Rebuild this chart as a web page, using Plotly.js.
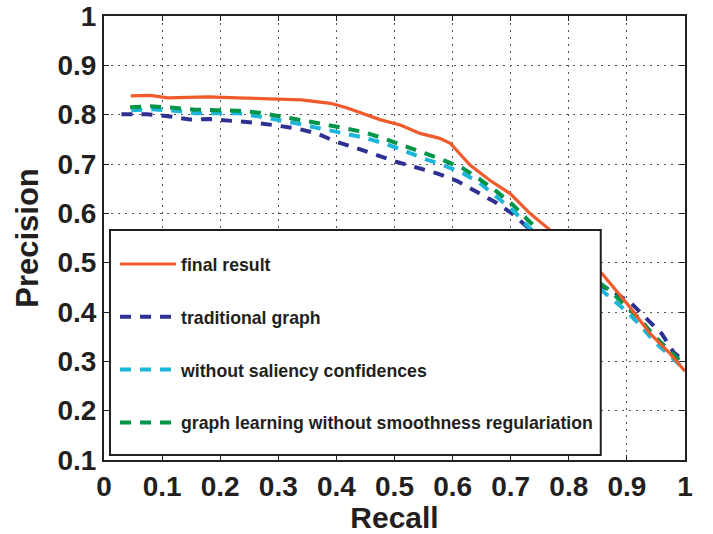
<!DOCTYPE html>
<html>
<head>
<meta charset="utf-8">
<script src="https://cdn.plot.ly/plotly-3.0.1.min.js"></script>
<style>html,body{margin:0;padding:0;background:#fff;}#chart{width:713px;height:534px;}</style>
</head>
<body>
<div id="chart"></div>
<script>
// Series names
const seriesNames = [
  "final result",
  "traditional graph",
  "without saliency confidences",
  "graph learning without smoothness regulariation"
];

// final result
const finalX = [0.046,0.08,0.11,0.15,0.18,0.23,0.29,0.34,0.39,0.42,0.475,0.51,0.544,0.578,0.596,0.613,0.63,0.664,0.699,0.716,0.733,0.768,0.80,0.83,0.857,0.905,0.94,0.974,1.0];
const finalY = [0.838,0.839,0.834,0.835,0.836,0.834,0.832,0.830,0.823,0.813,0.790,0.779,0.762,0.752,0.742,0.721,0.698,0.667,0.640,0.620,0.600,0.566,0.530,0.500,0.478,0.410,0.356,0.316,0.280];

// traditional graph
const tradX = [0.03,0.073,0.11,0.148,0.182,0.22,0.257,0.291,0.332,0.366,0.40,0.435,0.469,0.504,0.538,0.573,0.607,0.641,0.673,0.702,0.74,0.78,0.82,0.85,0.877,0.908,0.934,0.96,0.98,1.0];
const tradY = [0.801,0.801,0.797,0.790,0.791,0.788,0.784,0.779,0.772,0.762,0.745,0.732,0.718,0.704,0.693,0.681,0.666,0.644,0.623,0.600,0.560,0.515,0.478,0.456,0.441,0.417,0.387,0.356,0.319,0.298];

// without saliency confidences
const noSalX = [0.047,0.082,0.122,0.157,0.194,0.231,0.268,0.303,0.337,0.372,0.412,0.446,0.484,0.515,0.55,0.584,0.618,0.647,0.676,0.704,0.73,0.77,0.81,0.84,0.871,0.897,0.923,0.948,0.974,1.0];
const noSalY = [0.809,0.811,0.808,0.803,0.803,0.803,0.796,0.789,0.781,0.772,0.763,0.754,0.741,0.728,0.711,0.698,0.681,0.661,0.633,0.606,0.573,0.530,0.490,0.460,0.431,0.404,0.373,0.339,0.312,0.282];

// graph learning without smoothness regularization
const noSmoothX = [0.045,0.08,0.12,0.157,0.194,0.231,0.268,0.303,0.337,0.372,0.412,0.446,0.481,0.515,0.55,0.584,0.618,0.647,0.676,0.704,0.73,0.77,0.81,0.84,0.868,0.894,0.923,0.948,0.974,1.0];
const noSmoothY = [0.815,0.817,0.814,0.810,0.809,0.808,0.804,0.797,0.790,0.782,0.773,0.765,0.752,0.738,0.723,0.708,0.691,0.669,0.644,0.617,0.586,0.540,0.500,0.470,0.446,0.417,0.385,0.350,0.322,0.292];

const FONT = "Liberation Sans, Arial, Helvetica, sans-serif";
const dashPat = "11px,9px";

const traces = [
  {x: tradX, y: tradY, name: seriesNames[1], legendgroup: "b", legendrank: 2,
   mode: "lines", line: {color: "#2E3192", width: 4, dash: dashPat}},
  {x: noSalX, y: noSalY, name: seriesNames[2], legendgroup: "c", legendrank: 3,
   mode: "lines", line: {color: "#1CB6DA", width: 4, dash: dashPat}},
  {x: noSmoothX, y: noSmoothY, name: seriesNames[3], legendgroup: "d", legendrank: 4,
   mode: "lines", line: {color: "#009447", width: 4, dash: dashPat}},
  {x: finalX, y: finalY, name: seriesNames[0], legendgroup: "a", legendrank: 1,
   mode: "lines", line: {color: "#F15A2B", width: 3.2}}
];

const axisCommon = {
  showline: true, linecolor: "#231F20", linewidth: 2, mirror: "ticks",
  ticks: "inside", ticklen: 5, tickwidth: 1, tickcolor: "#231F20",
  showgrid: true, gridcolor: "#555", gridwidth: 1, griddash: "2px,5px",
  zeroline: false, dtick: 0.1,
  tickfont: {family: FONT, size: 28, color: "#231F20", weight: "bold"}
};

const layout = {
  width: 713, height: 534,
  margin: {l: 104, r: 28, t: 16, b: 74, pad: 0},
  paper_bgcolor: "#fff", plot_bgcolor: "#fff",
  xaxis: Object.assign({}, axisCommon, {
    range: [0, 1], tick0: 0,
    title: {text: "Recall", standoff: 4, font: {family: FONT, size: 30, color: "#231F20", weight: "bold"}}
  }),
  yaxis: Object.assign({}, axisCommon, {
    range: [0.1, 1], tick0: 0.1,
    title: {text: "Precision", standoff: 10, font: {family: FONT, size: 31, color: "#231F20", weight: "bold"}}
  }),
  showlegend: true,
  legend: {
    x: 0.019, xanchor: "left", y: 0.482, yanchor: "top",
    bgcolor: "rgba(0,0,0,0)", borderwidth: 0,
    font: {family: FONT, size: 17.7, color: "#231F20", weight: "bold"},
    tracegroupgap: 26.8, itemwidth: 56, traceorder: "grouped"
  },
  shapes: [{
    type: "rect", xref: "x", yref: "y", x0: 0.0103, x1: 0.855, y0: 0.110, y1: 0.566,
    fillcolor: "#fff", line: {color: "#231F20", width: 2}, layer: "above"
  }]
};

Plotly.newPlot("chart", traces, layout, {displayModeBar: false, staticPlot: true});
</script>
</body>
</html>
